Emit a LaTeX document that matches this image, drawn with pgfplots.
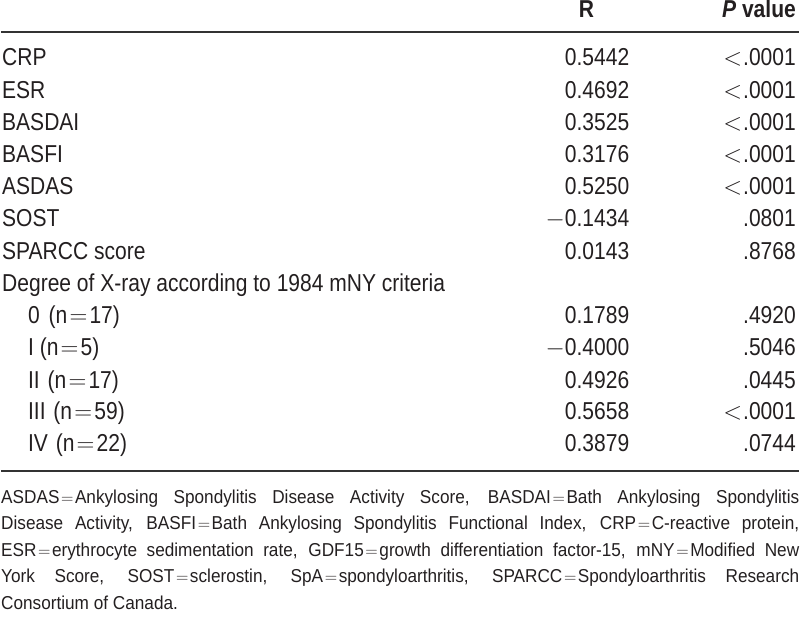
\documentclass[border=0pt]{standalone}
\usepackage{pgfplots}
\pgfplotsset{compat=1.18}
\usepackage{fontspec}
\setmainfont{Liberation Sans}[FakeStretch=0.86]
\newfontfamily\footfont{Liberation Sans}[FakeStretch=0.92]
\definecolor{txt}{HTML}{231F20}
\definecolor{rule}{HTML}{333333}
\newcommand{\eq}{\hspace{2.2bp}\(=\)\hspace{2.2bp}}
\newcommand{\feq}{\hspace{1.6bp}\(=\)\hspace{1.6bp}}
\newcommand{\lt}{\(<\)\hspace{1bp}}
\newcommand{\mi}{\(-\)}
\newcommand{\mainsize}{\fontsize{24.6}{29}\selectfont}
\begin{document}
\begin{tikzpicture}
\begin{axis}[hide axis, scale only axis, width=800bp, height=624bp,
  xmin=0, xmax=800, ymin=0, ymax=624, y dir=reverse, clip=false,
  point meta=explicit symbolic,
  nodes near coords,
  every node near coord/.append style={anchor=base east, inner sep=0pt, text=txt, font=\mainsize}]
\path (axis cs:0,0) rectangle (axis cs:800,624);
% R column
\addplot[draw=none, mark=none] coordinates {
(630,66) [0.5442]
(630,98.5) [0.4692]
(630,131) [0.3525]
(630,163) [0.3176]
(630,195) [0.5250]
(630,227.5) [\mi 0.1434]
(630,260) [0.0143]
(630,324) [0.1789]
(630,356) [\mi 0.4000]
(630,389) [0.4926]
(630,421) [0.5658]
(630,453) [0.3879]
};
% P column
\addplot[draw=none, mark=none] coordinates {
(797,66) [\lt.0001]
(797,98.5) [\lt.0001]
(797,131) [\lt.0001]
(797,163) [\lt.0001]
(797,195) [\lt.0001]
(797,227.5) [.0801]
(797,260) [.8768]
(797,324) [.4920]
(797,356) [.5046]
(797,389) [.0445]
(797,421) [\lt.0001]
(797,453) [.0744]
};
\begin{scope}[every node/.style={inner sep=0pt, text=txt, font=\mainsize}]
\node[anchor=base] at (axis cs:587,18) {\bfseries R};
\node[anchor=base east] at (axis cs:797,18) {\bfseries\itshape P\upshape\ value};
\node[anchor=base west] at (axis cs:1,66) {CRP};
\node[anchor=base west] at (axis cs:1,98.5) {ESR};
\node[anchor=base west] at (axis cs:1,131) {BASDAI};
\node[anchor=base west] at (axis cs:1,163) {BASFI};
\node[anchor=base west] at (axis cs:1,195) {ASDAS};
\node[anchor=base west] at (axis cs:1,227.5) {SOST};
\node[anchor=base west] at (axis cs:1,260) {SPARCC score};
\node[anchor=base west] at (axis cs:1,292) {Degree of X-ray according to 1984 mNY criteria};
\node[anchor=base west] at (axis cs:27,324) {0\hspace{3bp} (n\eq 17)};
\node[anchor=base west] at (axis cs:27,356) {I (n\eq 5)};
\node[anchor=base west] at (axis cs:27,389) {II\hspace{2bp} (n\eq 17)};
\node[anchor=base west] at (axis cs:27,421) {III\hspace{2bp} (n\eq 59)};
\node[anchor=base west] at (axis cs:27,453) {IV\hspace{2bp} (n\eq 22)};
\end{scope}
\draw[rule, line width=2bp] (axis cs:0,32) -- (axis cs:800,32);
\draw[rule, line width=2bp] (axis cs:0,472) -- (axis cs:800,472);
\node[anchor=north west, inner sep=0pt, text width=800bp, align=justify, text=txt,
  font=\footfont\fontsize{18.8}{26.6}\selectfont] at (axis cs:0,491)
{ASDAS\feq Ankylosing Spondylitis Disease Activity Score, BASDAI\feq Bath Ankylosing Spondylitis\linebreak
Disease Activity, BASFI\feq Bath Ankylosing Spondylitis Functional Index, CRP\feq C-reactive protein,\linebreak
ESR\feq erythrocyte sedimentation rate, GDF15\feq growth differentiation factor-15, mNY\feq Modified New\linebreak
York Score, SOST\feq sclerostin, SpA\feq spondyloarthritis, SPARCC\feq Spondyloarthritis Research\linebreak
Consortium of Canada.};
\end{axis}
\end{tikzpicture}
\end{document}
